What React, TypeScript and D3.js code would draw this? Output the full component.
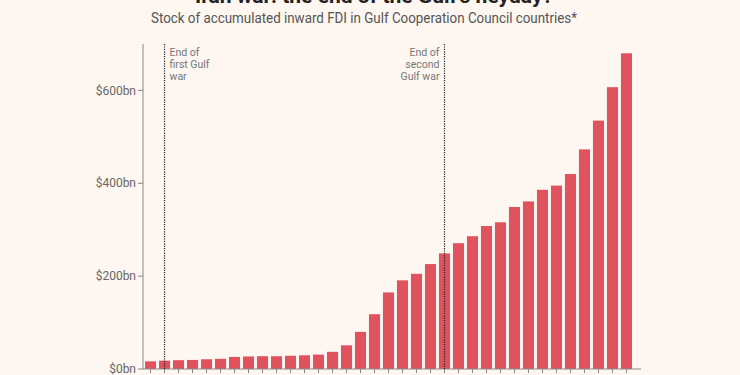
import React from "react";
import * as d3 from "d3";

const years: number[] = [
  1990, 1991, 1992, 1993, 1994, 1995, 1996, 1997, 1998, 1999, 2000, 2001,
  2002, 2003, 2004, 2005, 2006, 2007, 2008, 2009, 2010, 2011, 2012, 2013,
  2014, 2015, 2016, 2017, 2018, 2019, 2020, 2021, 2022, 2023, 2024,
];
const fdiStock: number[] = [
  16.5, 18, 19, 19.5, 21, 22, 26, 27, 27.5, 27.5, 28.5, 29.5, 31, 37, 51, 80,
  118, 165, 191, 205, 226, 249, 271, 286, 308, 316, 349, 361, 386, 395, 420,
  473, 535, 607, 680,
];
const yTicks: number[] = [0, 200, 400, 600];
const events = [
  { year: 1991, lines: ["End of", "first Gulf", "war"], side: "right" },
  { year: 2011, lines: ["End of", "second", "Gulf war"], side: "left" },
];
const title = "Iran war: the end of the Gulf's heyday?";
const subtitle =
  "Stock of accumulated inward FDI in Gulf Cooperation Council countries*";

const W = 740;
const H = 375;
const FONT = "Roboto, 'Noto Sans', sans-serif";

export default function App() {
  const x = d3
    .scaleBand<number>()
    .domain(years)
    .range([145, 632])
    .paddingInner(0.21)
    .paddingOuter(0);
  const y = d3.scaleLinear().domain([0, 700]).range([369, 44]);
  const axisLeft = 143;
  const axisRight = 641;
  const axisColor = "#8c8884";
  const cx = (yr: number) => (x(yr) ?? 0) + x.bandwidth() / 2;

  return (
    <svg
      width={W}
      height={H}
      style={{ position: "absolute", left: 0, top: 0 }}
      fontFamily={FONT}
    >
      <rect x={0} y={0} width={W} height={H} fill="#fdf6f1" />
      <text
        x={374}
        y={3}
        textAnchor="middle"
        fontSize={21}
        fontWeight={700}
        fill="#222"
      >
        {title}
      </text>
      <text
        x={364}
        y={23}
        textAnchor="middle"
        fontSize={14}
        fill="#555"
        textLength={426}
        lengthAdjust="spacingAndGlyphs"
      >
        {subtitle}
      </text>

      {/* bars */}
      {years.map((yr, i) => (
        <rect
          key={yr}
          x={x(yr)}
          y={y(fdiStock[i])}
          width={x.bandwidth()}
          height={y(0) - y(fdiStock[i])}
          fill="#e1525f"
        />
      ))}

      {/* y axis */}
      <line
        x1={axisLeft}
        x2={axisLeft}
        y1={y(700)}
        y2={y(0)}
        stroke={axisColor}
        strokeWidth={1}
      />
      {yTicks.map((t) => (
        <g key={t}>
          <line
            x1={axisLeft - 5}
            x2={axisLeft}
            y1={y(t)}
            y2={y(t)}
            stroke={axisColor}
          />
          <text
            x={axisLeft - 7}
            y={y(t)}
            dy="0.35em"
            textAnchor="end"
            fontSize={12}
            fill="#666"
          >
            {`$${t}bn`}
          </text>
        </g>
      ))}

      {/* x axis */}
      <line
        x1={axisLeft}
        x2={axisRight}
        y1={y(0)}
        y2={y(0)}
        stroke={axisColor}
      />
      {years.map((yr) => (
        <line
          key={"t" + yr}
          x1={cx(yr)}
          x2={cx(yr)}
          y1={y(0)}
          y2={y(0) + 4}
          stroke={axisColor}
        />
      ))}

      {/* event lines */}
      {events.map((e) => (
        <g key={e.year}>
          <line
            x1={cx(e.year)}
            x2={cx(e.year)}
            y1={y(700)}
            y2={y(0)}
            stroke="#222"
            strokeWidth={1.2}
            strokeDasharray="1.2,1.2"
          />
          {e.lines.map((l, j) => (
            <text
              key={j}
              x={e.side === "right" ? cx(e.year) + 5 : cx(e.year) - 5}
              y={52 + j * 12}
              dy="0.35em"
              textAnchor={e.side === "right" ? "start" : "end"}
              fontSize={10.5}
              fill="#777"
            >
              {l}
            </text>
          ))}
        </g>
      ))}
    </svg>
  );
}
